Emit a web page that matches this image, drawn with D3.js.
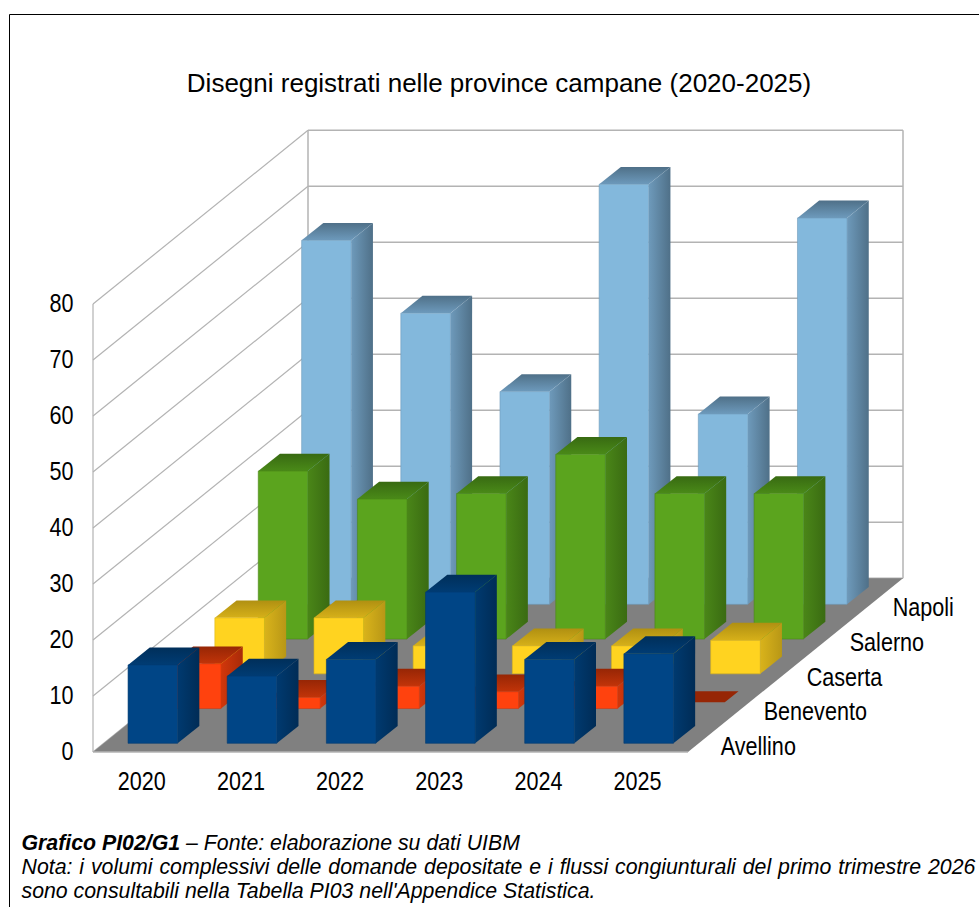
<!DOCTYPE html>
<html><head><meta charset="utf-8">
<script src="https://cdn.jsdelivr.net/npm/d3@7"></script>
<style>
html,body{margin:0;padding:0;background:#fff;overflow:hidden}
svg{display:block}
text{font-family:"Liberation Sans",Arial,sans-serif;fill:#000}
</style></head><body>
<svg id="c" width="979" height="907"></svg>
<script>
const years = ["2020","2021","2022","2023","2024","2025"];
const provinces = ["Avellino","Benevento","Caserta","Salerno","Napoli"];
const avellino  = [14,12,15,27,15,16];
const benevento = [8,2,4,3,4,0];
const caserta   = [10,10,5,5,5,6];
const salerno   = [30,25,26,33,26,26];
const napoli    = [65,52,38,75,34,69];
const yTicks = [0,10,20,30,40,50,60,70,80];
const title = "Disegni registrati nelle province campane (2020-2025)";
const seriesValues = [avellino,benevento,caserta,salerno,napoli];
// front, side (light, dark), top (back, front)
const palette = [
 {front:"#004586",s1:"#003a70",s2:"#002c56",t1:"#002f5a",t2:"#003c74"},
 {front:"#ff420e",s1:"#d2370b",s2:"#a82b08",t1:"#962605",t2:"#c23409"},
 {front:"#ffd320",s1:"#d9b31b",s2:"#b89716",t1:"#b09012",t2:"#d6b019"},
 {front:"#5ba41e",s1:"#4a8618",s2:"#3a6b12",t1:"#386a12",t2:"#4a8a18"},
 {front:"#83b8dc",s1:"#6e9abb",s2:"#4f7088",t1:"#4f7088",t2:"#6d9abc"}
];

const svg = d3.select("#c");
const x = d3.scaleLinear().domain([0,6]).range([93,688]);
const xBand = d3.scaleBand().domain(years).range([93,688]);
const y = d3.scaleLinear().domain([0,80]).range([752,304]);
const dx = d3.scaleLinear().domain([0,5]).range([0,215]);
const dxBar = d3.scaleLinear().domain([0,5]).range([0,217]);
const dy = d3.scaleLinear().domain([0,5]).range([0,-173.7]);
const P = (u,d,v)=>[x(u)+dx(d), y(v)+dy(d)];
const B = (u,d,v)=>[x(u)+dxBar(d), y(v)+dy(d)];
const poly = pts => pts.map(p=>p.map(n=>n.toFixed(2)).join(",")).join(" ");

const defs = svg.append("defs");
palette.forEach((c,i)=>{
  const s = defs.append("linearGradient").attr("id","side"+i).attr("x1",0).attr("x2",1).attr("y1",0).attr("y2",0);
  s.append("stop").attr("offset",0).attr("stop-color",c.s1);
  s.append("stop").attr("offset",1).attr("stop-color",c.s2);
  const t = defs.append("linearGradient").attr("id","top"+i).attr("x1",0).attr("x2",0).attr("y1",0).attr("y2",1);
  t.append("stop").attr("offset",0).attr("stop-color",c.t1);
  t.append("stop").attr("offset",1).attr("stop-color",c.t2);
});

// frame
svg.append("path").attr("d","M9.5,907V14.5H979").attr("fill","none").attr("stroke","#000").attr("stroke-width",1);

// walls
const grid = svg.append("g").attr("fill","none").attr("stroke","#b3b3b3");
const line = d3.line();
yTicks.forEach(t=>{
  grid.append("path").attr("d",line([P(0,0,t),P(0,5,t)])).attr("stroke-width",1.2);
  grid.append("path").attr("d",line([P(0,5,t),P(6,5,t)])).attr("stroke-width",1.5);
});
grid.append("path").attr("d",line([P(0,0,0),P(0,0,80)])).attr("stroke-width",1.2);
grid.append("path").attr("d",line([P(0,5,0),P(0,5,80)])).attr("stroke-width",1.5);
grid.append("path").attr("d",line([P(6,5,0),P(6,5,80)])).attr("stroke-width",1.5);

// floor
svg.append("polygon").attr("points",poly([P(0,0,0),P(6,0,0),P(6,5,0),P(0,5,0)])).attr("fill","#808080");
svg.append("path").attr("d",line([P(0,0,0),P(6,0,0)])).attr("stroke","#b3b3b3").attr("stroke-width",1.5).attr("fill","none");

// bars, back to front
const barW = 0.5, barD = 0.5, zeroClip = 0.365;
const bars = svg.append("g");
d3.range(provinces.length-1,-1,-1).forEach(s=>{
  const d0 = s+0.25, d1 = d0+barD, c = palette[s];
  seriesValues[s].forEach((v,i)=>{
    const u0 = i+0.244, u1 = u0+barW;
    const g = bars.append("g");
    if(v===0){
      const dm = d0+barD*zeroClip;
      g.append("polygon").attr("points",poly([B(u0,dm,0),B(u1,dm,0),B(u1,d1,0),B(u0,d1,0)])).attr("fill",c.t1);
      return;
    }
    g.append("polygon").attr("points",poly([B(u1,d0,0),B(u1,d1,0),B(u1,d1,v),B(u1,d0,v)])).attr("fill",`url(#side${s})`);
    g.append("polygon").attr("points",poly([B(u0,d0,v),B(u1,d0,v),B(u1,d1,v),B(u0,d1,v)])).attr("fill",`url(#top${s})`);
    g.append("polygon").attr("points",poly([B(u0,d0,0),B(u1,d0,0),B(u1,d0,v),B(u0,d0,v)])).attr("fill",c.front)
      .attr("stroke",c.s1).attr("stroke-width",0.6);
  });
});

// text helper: horizontally condensed labels
const squeeze = (sel,k)=>sel.each(function(){
  const w=this.getComputedTextLength();
  d3.select(this).attr("textLength",(w*k).toFixed(1)).attr("lengthAdjust","spacingAndGlyphs");
});
const labelSize = 26, k = 0.83;

// y axis
const ya = svg.append("g").attr("transform","translate(73.5,0)")
  .call(d3.axisLeft(y).tickValues(yTicks).tickSize(0).tickPadding(0));
ya.select(".domain").remove();
ya.selectAll("text").style("font-family",'"Liberation Sans"').style("font-size",labelSize+"px").attr("dy",null).attr("y",7).attr("fill","#000").call(squeeze,k);

// x axis
const xa = svg.append("g").attr("transform","translate(-0.8,771)")
  .call(d3.axisBottom(xBand).tickSize(0).tickPadding(0));
xa.select(".domain").remove();
xa.selectAll("text").style("font-family",'"Liberation Sans"').style("font-size",labelSize+"px").attr("dy",null).attr("y",18.5).attr("fill","#000").call(squeeze,k);

// depth axis
svg.append("g").selectAll("text").data(provinces).join("text")
  .attr("x",(d,i)=>P(6,i+0.5,0)[0]+11.2)
  .attr("y",(d,i)=>P(6,i+0.5,0)[1]+20.5)
  .style("font-size",labelSize+"px").text(d=>d).call(squeeze,k);

// title
svg.append("text").attr("x",499).attr("y",92).attr("text-anchor","middle").style("font-size","26px").text(title);

// footer
const foot = svg.append("g").style("font-style","italic").style("font-size","21.3px");
const l1 = foot.append("text").attr("x",21.5).attr("y",849.5);
l1.append("tspan").style("font-weight","bold").text("Grafico PI02/G1");
l1.append("tspan").text(" – Fonte: elaborazione su dati UIBM");
foot.append("text").attr("x",21.5).attr("y",874).style("word-spacing","1px").text("Nota: i volumi complessivi delle domande depositate e i flussi congiunturali del primo trimestre 2026");
foot.append("text").attr("x",21.5).attr("y",897.5).text("sono consultabili nella Tabella PI03 nell'Appendice Statistica.");
</script>
</body></html>
